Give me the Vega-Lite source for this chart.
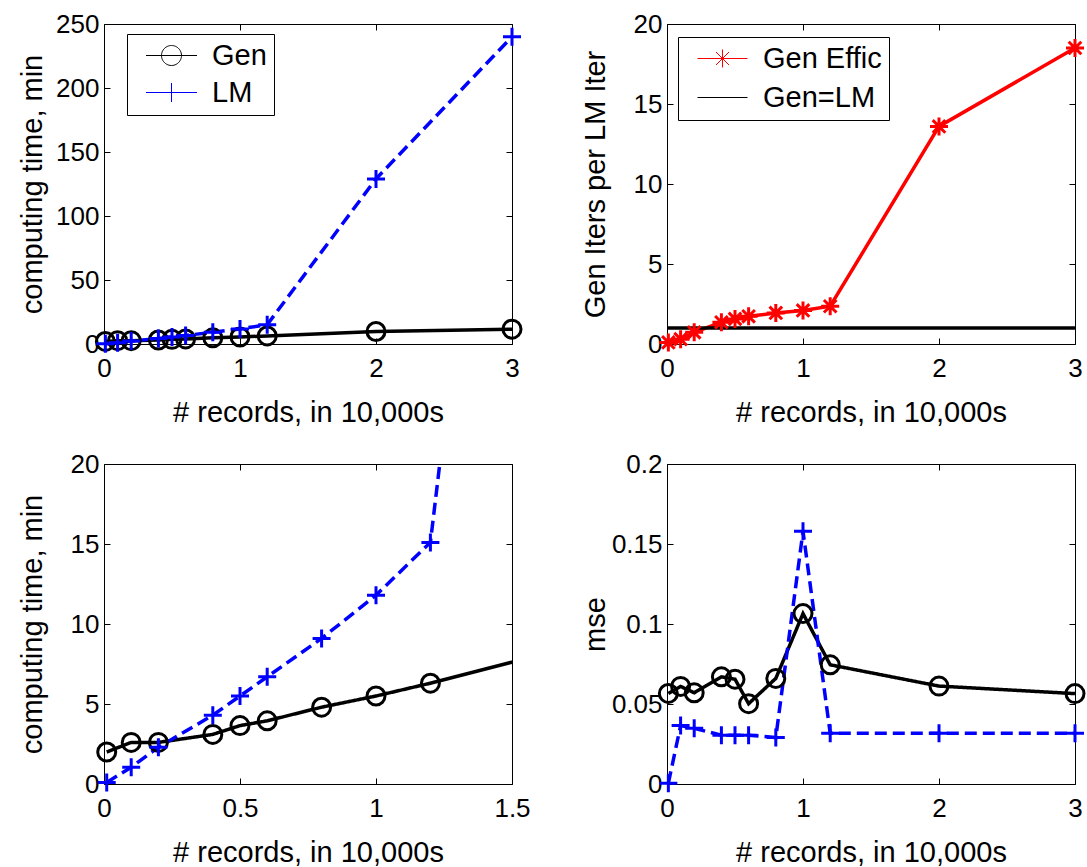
{
  "$schema": "https://vega.github.io/schema/vega-lite/v6.json",
  "padding": {"left": 17, "top": 10, "right": 0, "bottom": 0},
  "background": "white",
  "columns": 2,
  "spacing": {"column": 155, "row": 120},
  "bounds": "flush",
  "resolve": {"scale": {"color": "independent", "shape": "independent", "strokeDash": "independent"}, "legend": {"color": "independent", "shape": "independent", "strokeDash": "independent"}},
  "datasets": {
    "time": [
      {"x": 0.01, "s": "Gen", "v": 2.0}, {"x": 0.1, "s": "Gen", "v": 2.6}, {"x": 0.2, "s": "Gen", "v": 2.6},
      {"x": 0.4, "s": "Gen", "v": 3.1}, {"x": 0.5, "s": "Gen", "v": 3.65}, {"x": 0.6, "s": "Gen", "v": 3.95},
      {"x": 0.8, "s": "Gen", "v": 4.8}, {"x": 1.0, "s": "Gen", "v": 5.5}, {"x": 1.2, "s": "Gen", "v": 6.3},
      {"x": 2.0, "s": "Gen", "v": 9.8}, {"x": 3.0, "s": "Gen", "v": 11.6},
      {"x": 0.01, "s": "LM", "v": 0.1}, {"x": 0.1, "s": "LM", "v": 1.05}, {"x": 0.2, "s": "LM", "v": 2.3},
      {"x": 0.4, "s": "LM", "v": 4.3}, {"x": 0.5, "s": "LM", "v": 5.5}, {"x": 0.6, "s": "LM", "v": 6.7},
      {"x": 0.8, "s": "LM", "v": 9.1}, {"x": 1.0, "s": "LM", "v": 11.8}, {"x": 1.2, "s": "LM", "v": 15.1},
      {"x": 2.0, "s": "LM", "v": 129}, {"x": 3.0, "s": "LM", "v": 240}
    ],
    "effic": [
      {"x": 0.01, "s": "Gen Effic", "v": 0.1}, {"x": 0.1, "s": "Gen Effic", "v": 0.3}, {"x": 0.2, "s": "Gen Effic", "v": 0.73},
      {"x": 0.4, "s": "Gen Effic", "v": 1.36}, {"x": 0.5, "s": "Gen Effic", "v": 1.57}, {"x": 0.6, "s": "Gen Effic", "v": 1.73},
      {"x": 0.8, "s": "Gen Effic", "v": 1.94}, {"x": 1.0, "s": "Gen Effic", "v": 2.1}, {"x": 1.2, "s": "Gen Effic", "v": 2.36},
      {"x": 2.0, "s": "Gen Effic", "v": 13.6}, {"x": 3.0, "s": "Gen Effic", "v": 18.5},
      {"x": 0, "s": "Gen=LM", "v": 1}, {"x": 3, "s": "Gen=LM", "v": 1}
    ],
    "mse": [
      {"x": 0.01, "s": "Gen", "v": 0.0566}, {"x": 0.1, "s": "Gen", "v": 0.061}, {"x": 0.2, "s": "Gen", "v": 0.057},
      {"x": 0.4, "s": "Gen", "v": 0.067}, {"x": 0.5, "s": "Gen", "v": 0.0655}, {"x": 0.6, "s": "Gen", "v": 0.0502},
      {"x": 0.8, "s": "Gen", "v": 0.066}, {"x": 1.0, "s": "Gen", "v": 0.1065}, {"x": 1.2, "s": "Gen", "v": 0.0745},
      {"x": 2.0, "s": "Gen", "v": 0.0612}, {"x": 3.0, "s": "Gen", "v": 0.0565},
      {"x": 0.01, "s": "LM", "v": 0.0005}, {"x": 0.1, "s": "LM", "v": 0.0365}, {"x": 0.2, "s": "LM", "v": 0.0348},
      {"x": 0.4, "s": "LM", "v": 0.0305}, {"x": 0.5, "s": "LM", "v": 0.0305}, {"x": 0.6, "s": "LM", "v": 0.0305},
      {"x": 0.8, "s": "LM", "v": 0.029}, {"x": 1.0, "s": "LM", "v": 0.158}, {"x": 1.2, "s": "LM", "v": 0.0317},
      {"x": 2.0, "s": "LM", "v": 0.0317}, {"x": 3.0, "s": "LM", "v": 0.0317}
    ]
  },
  "concat": [
    {
      "width": 408, "height": 320,
      "data": {"name": "time"},
      "resolve": {"axis": {"x": "independent", "y": "independent"}},
      "layer": [
        {
          "transform": [{"filter": "datum.s === 'Gen'"}],
          "mark": {"type": "line", "strokeWidth": 3.5},
          "encoding": {
            "x": {"field": "x", "type": "quantitative", "scale": {"domain": [0, 3], "nice": false},
                  "axis": {"orient": "bottom", "values": [0, 1, 2, 3], "title": "# records, in 10,000s", "titleX": 204, "titleY": 83}},
            "y": {"field": "v", "type": "quantitative", "scale": {"domain": [0, 250], "nice": false},
                  "axis": {"orient": "left", "values": [0, 50, 100, 150, 200, 250], "title": "computing time, min", "titleX": -63, "titleY": 160}},
            "color": {"field": "s", "type": "nominal", "scale": {"domain": ["Gen", "LM"], "range": ["#000000", "#0000ff"]},
              "legend": {"orient": "none", "legendX": 23, "legendY": 10, "title": null, "strokeColor": "black", "fillColor": "white",
                "padding": 7, "rowPadding": 7, "labelFontSize": 29, "labelFont": "Liberation Sans", "labelColor": "black",
                "symbolSize": 100, "symbolOffset": 23, "labelOffset": 26, "symbolDash": [1, 0],
                "encode": {"symbols": {"update": {
                  "shape": {"signal": "datum.value === 'Gen' ? 'M-5.1,0H5.1M2,0A2,2 0 1,1 -2,0A2,2 0 1,1 2,0' : 'M-5.1,0H5.1M0,-1.9V1.9M-1.6,0H1.6'"},
                  "strokeWidth": {"value": 1}, "fill": {"value": "transparent"}, "opacity": {"value": 1}}}}}}
          }
        },
        {
          "transform": [{"filter": "datum.s === 'LM'"}],
          "mark": {"type": "line", "strokeWidth": 3.5, "color": "#0000ff", "strokeDash": [12, 6]},
          "encoding": {
            "x": {"field": "x", "type": "quantitative", "axis": null},
            "y": {"field": "v", "type": "quantitative", "axis": null}
          }
        },
        {
          "transform": [{"filter": "datum.s === 'Gen'"}],
          "mark": {"type": "point", "filled": false, "strokeWidth": 3, "size": 324, "opacity": 1, "color": "#000000", "shape": "circle"},
          "encoding": {
            "x": {"field": "x", "type": "quantitative", "axis": {"orient": "top", "values": [0, 1, 2, 3], "labels": false, "title": null}},
            "y": {"field": "v", "type": "quantitative", "axis": {"orient": "right", "values": [0, 50, 100, 150, 200, 250], "labels": false, "title": null}}
          }
        },
        {
          "transform": [{"filter": "datum.s === 'LM'"}],
          "mark": {"type": "point", "filled": false, "strokeWidth": 3, "size": 324, "opacity": 1, "color": "#0000ff", "shape": "M-1,0H1M0,-1V1"},
          "encoding": {
            "x": {"field": "x", "type": "quantitative", "axis": null},
            "y": {"field": "v", "type": "quantitative", "axis": null}
          }
        }
      ]
    },
    {
      "width": 408, "height": 320,
      "data": {"name": "effic"},
      "resolve": {"axis": {"x": "independent", "y": "independent"}},
      "layer": [
        {
          "mark": {"type": "line", "strokeWidth": 3.5},
          "encoding": {
            "x": {"field": "x", "type": "quantitative", "scale": {"domain": [0, 3], "nice": false},
                  "axis": {"orient": "bottom", "values": [0, 1, 2, 3], "title": "# records, in 10,000s", "titleX": 204, "titleY": 83}},
            "y": {"field": "v", "type": "quantitative", "scale": {"domain": [0, 20], "nice": false},
                  "axis": {"orient": "left", "values": [0, 5, 10, 15, 20], "title": "Gen Iters per LM Iter", "titleX": -63, "titleY": 160}},
            "color": {"field": "s", "type": "nominal", "scale": {"domain": ["Gen Effic", "Gen=LM"], "range": ["#ff0000", "#000000"]},
              "legend": {"orient": "none", "legendX": 11, "legendY": 13, "title": null, "strokeColor": "black", "fillColor": "white",
                "padding": 7, "rowPadding": 9, "labelFontSize": 29, "labelFont": "Liberation Sans", "labelColor": "black",
                "symbolSize": 100, "symbolOffset": 23, "labelOffset": 26,
                "encode": {"symbols": {"update": {
                  "shape": {"signal": "datum.value === 'Gen Effic' ? 'M-5,0H5M0,-1.8V1.8M-1.3,-1.3L1.3,1.3M-1.3,1.3L1.3,-1.3' : 'M-5,0H5'"},
                  "strokeWidth": {"value": 1}, "fill": {"value": "transparent"}, "opacity": {"value": 1}}}}}}
          }
        },
        {
          "transform": [{"filter": "datum.s === 'Gen Effic'"}],
          "mark": {"type": "point", "filled": false, "strokeWidth": 3, "size": 324, "opacity": 1, "color": "#ff0000",
                   "shape": "M-1,0H1M0,-1V1M-0.7,-0.7L0.7,0.7M-0.7,0.7L0.7,-0.7"},
          "encoding": {
            "x": {"field": "x", "type": "quantitative", "axis": {"orient": "top", "values": [0, 1, 2, 3], "labels": false, "title": null}},
            "y": {"field": "v", "type": "quantitative", "axis": {"orient": "right", "values": [0, 5, 10, 15, 20], "labels": false, "title": null}}
          }
        }
      ]
    },
    {
      "width": 408, "height": 320,
      "data": {"name": "time"},
      "resolve": {"axis": {"x": "independent", "y": "independent"}},
      "layer": [
        {
          "mark": {"type": "line", "strokeWidth": 3.5, "clip": true},
          "encoding": {
            "x": {"field": "x", "type": "quantitative", "scale": {"domain": [0, 1.5], "nice": false},
                  "axis": {"orient": "bottom", "values": [0, 0.5, 1, 1.5], "format": "~g", "title": "# records, in 10,000s", "titleX": 204, "titleY": 83}},
            "y": {"field": "v", "type": "quantitative", "scale": {"domain": [0, 20], "nice": false},
                  "axis": {"orient": "left", "values": [0, 5, 10, 15, 20], "title": "computing time, min", "titleX": -63, "titleY": 160}},
            "color": {"field": "s", "type": "nominal", "scale": {"domain": ["Gen", "LM"], "range": ["#000000", "#0000ff"]}, "legend": null},
            "strokeDash": {"field": "s", "type": "nominal", "scale": {"domain": ["Gen", "LM"], "range": [[1, 0], [12, 6]]}, "legend": null}
          }
        },
        {
          "transform": [{"filter": "datum.x <= 1.5"}],
          "mark": {"type": "point", "filled": false, "strokeWidth": 3, "size": 324, "opacity": 1},
          "encoding": {
            "x": {"field": "x", "type": "quantitative", "axis": {"orient": "top", "values": [0, 0.5, 1, 1.5], "labels": false, "title": null}},
            "y": {"field": "v", "type": "quantitative", "axis": {"orient": "right", "values": [0, 5, 10, 15, 20], "labels": false, "title": null}},
            "color": {"field": "s", "type": "nominal", "legend": null},
            "shape": {"field": "s", "type": "nominal", "scale": {"domain": ["Gen", "LM"], "range": ["circle", "M-1,0H1M0,-1V1"]}, "legend": null}
          }
        }
      ]
    },
    {
      "width": 408, "height": 320,
      "data": {"name": "mse"},
      "resolve": {"axis": {"x": "independent", "y": "independent"}},
      "layer": [
        {
          "mark": {"type": "line", "strokeWidth": 3.5},
          "encoding": {
            "x": {"field": "x", "type": "quantitative", "scale": {"domain": [0, 3], "nice": false},
                  "axis": {"orient": "bottom", "values": [0, 1, 2, 3], "title": "# records, in 10,000s", "titleX": 204, "titleY": 83}},
            "y": {"field": "v", "type": "quantitative", "scale": {"domain": [0, 0.2], "nice": false},
                  "axis": {"orient": "left", "values": [0, 0.05, 0.1, 0.15, 0.2], "format": "~g", "title": "mse", "titleX": -63, "titleY": 160}},
            "color": {"field": "s", "type": "nominal", "scale": {"domain": ["Gen", "LM"], "range": ["#000000", "#0000ff"]}, "legend": null},
            "strokeDash": {"field": "s", "type": "nominal", "scale": {"domain": ["Gen", "LM"], "range": [[1, 0], [12, 6]]}, "legend": null}
          }
        },
        {
          "mark": {"type": "point", "filled": false, "strokeWidth": 3, "size": 324, "opacity": 1},
          "encoding": {
            "x": {"field": "x", "type": "quantitative", "axis": {"orient": "top", "values": [0, 1, 2, 3], "labels": false, "title": null}},
            "y": {"field": "v", "type": "quantitative", "axis": {"orient": "right", "values": [0, 0.05, 0.1, 0.15, 0.2], "labels": false, "title": null}},
            "color": {"field": "s", "type": "nominal", "legend": null},
            "shape": {"field": "s", "type": "nominal", "scale": {"domain": ["Gen", "LM"], "range": ["circle", "M-1,0H1M0,-1V1"]}, "legend": null}
          }
        }
      ]
    }
  ],
  "config": {
    "font": "Liberation Sans",
    "view": {"stroke": "black", "strokeWidth": 1},
    "axis": {
      "domain": false, "grid": false, "tickColor": "black", "tickSize": 6, "tickWidth": 1, "offset": -6,
      "labelFont": "Liberation Sans", "labelFontSize": 26, "labelColor": "black", "labelPadding": 11,
      "labelFlush": false, "labelOverlap": false, "labelBound": false,
      "titleFont": "Liberation Sans", "titleFontSize": 29, "titleFontWeight": "normal", "titleColor": "black"
    },
    "axisBottom": {"titleBaseline": "alphabetic", "titleAlign": "center", "titleAngle": 0},
    "axisLeft": {"labelPadding": 5, "titleAngle": -90, "titleBaseline": "bottom", "titleAlign": "center"}
  }
}
